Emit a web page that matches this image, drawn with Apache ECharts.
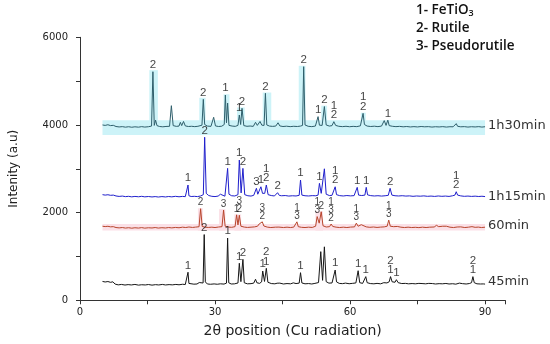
<!DOCTYPE html>
<html><head><meta charset="utf-8">
<script src="https://cdn.jsdelivr.net/npm/echarts@6/dist/echarts.min.js"></script>
<style>html,body{margin:0;padding:0;background:#fff}#c{width:550px;height:344px}</style>
</head><body><div id="c"></div>
<script>
// ---------- data ----------
const seriesNames = ['45min', '60min', '1h15min', '1h30min'];
const xTicks = [0, 30, 60, 90];
const yTicks = [0, 2000, 4000, 6000];

// baseline / shoulder points [2theta, intensity]
const base45 = [[5,430],[5.6,418],[6.2,428],[6.8,410],[7.3,422],[7.8,370],[8.5,352],[9.2,362],[10,348],[10.7,358],[11.4,350],[12.2,362],[13,346],[13.7,355],[14.5,350],[15.2,360],[16,346],[16.8,357],[17.5,350],[18.3,362],[19,350],[19.8,358],[20.5,352],[21.3,362],[22,354],[22.8,366],[23.4,360],[23.8,385],[24.2,385],[24.6,362],[25.3,368],[26,372],[26.5,405],[26.9,378],[27.35,395],[27.85,420],[28.3,372],[29,366],[29.8,374],[30.5,366],[31.2,376],[32,370],[32.55,392],[33.05,400],[33.6,372],[34.3,375],[35.1,395],[35.75,425],[36.5,400],[37.2,376],[38,380],[38.6,392],[39.3,400],[39.9,386],[40.35,420],[41.0,430],[41.75,412],[42.5,382],[43.3,376],[43.8,390],[44.4,392],[45.2,372],[46,382],[46.8,376],[47.4,398],[48,382],[48.7,392],[49.3,396],[50,376],[50.8,382],[51.5,372],[52.2,386],[53.0,405],[53.9,455],[54.7,425],[55.3,392],[56,396],[56.4,422],[57,420],[57.6,386],[58.3,380],[59,392],[59.8,378],[60.5,386],[61.3,396],[62.15,402],[62.8,386],[63.2,410],[63.8,402],[64.5,382],[65.3,376],[66,386],[66.8,376],[67.5,402],[68.2,396],[68.7,422],[69.35,422],[70.0,412],[70.7,402],[71.5,382],[72.3,386],[73,376],[73.8,382],[74.5,376],[75.3,386],[76,382],[76.8,376],[77.5,386],[78.3,382],[79,372],[79.8,380],[80.5,376],[81.3,384],[82,372],[82.8,378],[83.5,368],[84.3,392],[85,380],[85.8,372],[86.5,382],[87.0,402],[87.6,402],[88.2,376],[89,372],[89.6,374],[90,370]];
const base60 = [[5,1690],[5.6,1682],[6.2,1688],[6.8,1676],[7.4,1680],[8,1660],[8.7,1652],[9.4,1660],[10.1,1648],[10.8,1656],[11.5,1645],[12.2,1655],[13,1648],[13.7,1658],[14.4,1646],[15.2,1655],[16,1650],[16.7,1660],[17.4,1648],[18.2,1656],[19,1650],[19.7,1660],[20.4,1652],[21.2,1662],[22,1655],[22.8,1668],[23.5,1660],[24.2,1672],[25,1662],[25.7,1670],[26.45,1678],[27.15,1685],[27.8,1668],[28.5,1662],[29.3,1668],[30,1660],[30.8,1672],[31.55,1680],[32.25,1690],[33,1670],[33.7,1665],[34.45,1680],[35.1,1720],[35.75,1690],[36.5,1670],[37.2,1662],[38,1668],[38.8,1675],[39.45,1690],[40.1,1700],[40.85,1695],[41.6,1670],[42.4,1660],[43.4,1668],[44.2,1670],[45.2,1660],[46,1668],[46.8,1660],[47.5,1670],[47.9,1680],[48.5,1680],[49.2,1665],[50,1660],[50.8,1668],[51.6,1662],[52.35,1690],[53.15,1760],[54.0,1700],[54.7,1672],[55.45,1680],[56.15,1685],[56.9,1668],[57.7,1660],[58.5,1668],[59.3,1660],[60.1,1670],[61.0,1675],[61.8,1690],[62.2,1700],[62.9,1690],[63.6,1675],[64.4,1665],[65.2,1672],[66,1662],[66.8,1670],[67.6,1675],[68.25,1690],[68.95,1690],[69.7,1680],[70.5,1685],[71.3,1668],[72.1,1660],[72.9,1668],[73.7,1660],[74.5,1665],[75.3,1658],[76.1,1668],[76.9,1660],[77.7,1668],[78.7,1672],[79.7,1680],[80.6,1690],[81.4,1690],[82.2,1668],[83,1660],[83.8,1672],[84.6,1675],[85.5,1660],[86.3,1668],[87.1,1680],[87.8,1665],[88.5,1670],[89.2,1660],[90,1668]];
const base75 = [[5,2410],[5.6,2400],[6.2,2408],[6.8,2395],[7.4,2400],[8,2380],[8.7,2370],[9.4,2378],[10.1,2365],[10.8,2372],[11.5,2360],[12.2,2370],[13,2362],[13.7,2372],[14.4,2360],[15.2,2368],[16,2358],[16.7,2366],[17.4,2356],[18.2,2366],[19,2358],[19.7,2368],[20.4,2360],[21.2,2372],[22,2362],[22.8,2370],[23.4,2365],[23.8,2385],[24.2,2385],[24.7,2368],[25.4,2372],[26.1,2366],[26.8,2380],[27.4,2410],[28.05,2440],[28.6,2390],[29.3,2372],[30,2366],[30.7,2378],[31.0,2390],[31.5,2385],[32.2,2375],[32.55,2400],[33.1,2420],[33.7,2385],[34.4,2380],[35.1,2410],[35.8,2450],[36.6,2410],[37.3,2385],[38,2378],[38.6,2395],[38.95,2410],[39.5,2420],[39.9,2425],[40.55,2440],[41.05,2440],[41.8,2410],[42.5,2390],[43.2,2380],[43.6,2395],[44.3,2392],[44.8,2385],[45.6,2390],[46.4,2378],[47.2,2385],[48,2380],[48.7,2395],[49.3,2400],[50,2385],[50.8,2380],[51.6,2388],[52.4,2385],[52.9,2400],[53.6,2440],[53.95,2430],[54.7,2420],[55.4,2390],[56,2395],[56.4,2410],[57.0,2410],[57.7,2388],[58.5,2380],[59.3,2390],[60.1,2382],[60.9,2388],[61.3,2400],[61.9,2400],[62.6,2390],[63.3,2400],[63.9,2405],[64.6,2388],[65.4,2380],[66.2,2386],[67,2378],[67.8,2385],[68.5,2395],[69.3,2400],[70,2385],[70.8,2380],[71.6,2386],[72.4,2378],[73.2,2382],[74,2372],[74.8,2380],[75.6,2375],[76.4,2382],[77.2,2372],[78,2378],[78.8,2370],[79.6,2380],[80.4,2372],[81.2,2378],[82,2370],[82.8,2385],[83.3,2400],[83.9,2400],[84.6,2382],[85.4,2372],[86.2,2378],[87,2370],[87.8,2376],[88.6,2368],[89.3,2374],[90,2366]];
const base90 = [[5,4000],[5.6,3990],[6.2,4005],[6.8,3985],[7.4,3992],[8,3965],[8.7,3955],[9.4,3962],[10.1,3950],[10.8,3960],[11.5,3948],[12.2,3958],[13,3950],[13.7,3962],[14.4,3952],[15.2,3960],[15.9,3975],[16.5,3990],[17.1,3985],[17.7,3965],[18.4,3958],[19.1,3966],[19.9,3970],[20.7,3985],[21.4,3968],[22,3975],[22.6,3985],[23.4,3978],[24.1,3965],[24.8,3970],[25.5,3962],[26.2,3970],[27.1,3995],[27.7,4010],[28.3,3975],[29.1,3968],[29.4,3980],[30.1,3978],[30.8,3965],[31.5,3972],[32.05,4010],[32.55,4050],[33.1,3990],[33.8,3975],[34.5,3968],[35.1,3990],[35.7,4010],[36.4,3985],[37.1,3970],[37.8,3976],[38.5,3968],[39.4,3990],[40.4,3995],[40.9,3990],[41.5,4000],[42.1,3975],[42.8,3968],[43.5,3975],[44.4,3978],[45.1,3965],[45.9,3972],[46.7,3962],[47.5,3970],[48.3,3965],[49.0,3975],[49.45,3990],[50.0,4000],[50.7,3970],[51.5,3962],[52.3,3975],[52.65,3990],[53.2,3995],[53.8,3990],[54.7,4000],[55.4,3975],[56.0,3985],[56.8,3990],[57.5,3970],[58.3,3962],[59.1,3970],[59.9,3960],[60.7,3968],[61.5,3962],[62.3,3980],[62.6,4010],[63.2,4010],[63.8,3975],[64.6,3965],[65.4,3972],[66.2,3962],[67.0,3975],[67.3,3990],[68.0,3990],[68.7,3985],[69.4,3970],[70.2,3962],[71,3968],[71.8,3958],[72.6,3965],[73.4,3955],[74.2,3962],[75,3955],[75.8,3965],[76.6,3958],[77.4,3962],[78.2,3952],[79,3960],[79.8,3955],[80.6,3962],[81.4,3952],[82.2,3960],[82.9,3958],[83.3,3975],[83.9,3970],[84.6,3958],[85.4,3962],[86.2,3952],[87,3960],[87.8,3955],[88.6,3962],[89.3,3952],[90,3960]];

// peaks [2theta, intensity, phase label]  1 = FeTiO3, 2 = Rutile, 3 = Pseudorutile
const peaks45 = [[24.0,640,'1'],[27.6,1500,'2'],[32.8,1420,'1'],[35.4,845,'1'],[36.2,935,'2'],[39.0,480,''],[40.6,668,'1'],[41.4,730,'2\n1'],[44.1,430,''],[49.0,630,'1'],[53.5,1110,''],[54.3,1220,''],[56.7,690,'1'],[61.8,675,'1'],[63.5,540,'1'],[69.0,540,'2\n1'],[70.3,470,'1'],[87.3,540,'2\n1']];
const peaks60 = [[26.8,2090,'2'],[31.9,2060,'3'],[34.8,1950,'1'],[35.4,1940,'3\n2'],[39.8,1740,''],[40.5,1790,'3\n2'],[43.8,1710,''],[48.2,1790,'1\n3'],[52.7,1910,'1\n3'],[53.6,2020,'2'],[55.8,1740,'1\n3\n2'],[61.4,1760,'1\n3'],[62.5,1725,''],[68.6,1830,'1\n3'],[70.1,1700,''],[79.2,1710,''],[81.0,1725,''],[84.2,1700,'']];
const peaks75 = [[24.0,2630,'1'],[27.7,3720,'2'],[31.2,2420,''],[32.8,3010,'1'],[35.4,3200,'1'],[36.2,3010,'2'],[39.2,2555,'3'],[40.2,2590,'1'],[41.4,2630,'1\n2'],[43.9,2455,'2'],[45.2,2400,''],[49.0,2744,'1'],[53.2,2668,'1'],[54.3,3000,''],[56.7,2590,'1\n2'],[61.6,2577,'1'],[63.6,2577,'1'],[68.9,2555,'2'],[83.6,2477,'1\n2']];
const peaks90 = [[16.2,5215,'2'],[16.8,4110,''],[20.3,4440,''],[22.3,4060,''],[23.0,4080,''],[27.4,4585,'2'],[29.7,4175,''],[32.3,4683,'1'],[32.8,4500,''],[35.4,4227,'1'],[36.0,4380,'2'],[39.0,4060,''],[40.0,4080,''],[41.2,4722,'2'],[44.0,4050,''],[49.7,5330,'2'],[52.9,4190,'1'],[54.3,4420,'2'],[56.4,4075,'1\n2'],[62.9,4265,'1\n2'],[67.6,4100,''],[68.4,4110,'1'],[83.6,4030,'']];

// highlight bands [x0, x1, y0, y1]
const cyanBands = [[5,90,3770,4110],[15.4,17.3,3770,5250],[26.5,27.9,3770,4620],[31.9,33.2,3770,4700],[34.9,36.6,3770,4400],[40.6,42.5,3770,4740],[48.6,50.1,3770,5350],[53.6,54.9,3770,4440],[62.4,63.5,3770,4280]];
const pinkBands = [[5,90,1590,1740],[26.2,27.3,1590,2100],[30.9,32.3,1590,2080],[34.3,35.8,1590,1960],[52.3,54.0,1590,2030]];

const legendLines = ['1- FeTiO{s|3}', '2- Rutile', '3- Pseudorutile'];

// ---------- build ----------
function trace(base, peaks) {
  return base.concat(peaks.map(p => [p[0], p[1]])).sort((a, b) => a[0] - b[0]);
}
function bandData(bands) {
  return bands.map(b => [{coord: [b[0], b[2]]}, {coord: [b[1], b[3]]}]);
}
const colors = ['#161616', '#b8452c', '#1f1fcc', '#2f5f6c'];
const bases = [base45, base60, base75, base90];
const peaks = [peaks45, peaks60, peaks75, peaks90];
const endOffsets = [-2, -2, 0, -1];
const FONT = 'DejaVu Sans';

const series = [
  {type: 'line', data: [], z: 1, silent: true,
   markArea: {silent: true, itemStyle: {color: '#cdf3f8'}, data: bandData(cyanBands)}},
  {type: 'line', data: [], z: 1, silent: true,
   markArea: {silent: true, itemStyle: {color: '#fbe0e7'}, data: bandData(pinkBands)}}
];
seriesNames.forEach((name, i) => {
  series.push({
    name: name, type: 'line', z: 3, showSymbol: false, symbol: 'none',
    data: trace(bases[i], peaks[i]),
    lineStyle: {color: colors[i], width: 1},
    endLabel: {show: true, formatter: name, color: '#333', fontSize: 13, fontFamily: FONT, distance: 3, offset: [0, endOffsets[i]]}
  });
  series.push({
    type: 'scatter', z: 4, symbolSize: 0, silent: true,
    data: peaks[i].filter(p => p[2]).map(p => [p[0], p[1], p[2]]),
    label: {show: true, position: 'top', distance: 2, formatter: p => p.data[2],
      fontFamily: 'Liberation Sans', fontSize: i === 1 ? 10 : 11.5, lineHeight: i === 1 ? 8 : 9.5, color: '#111'}
  });
});

const chart = echarts.init(document.getElementById('c'), null, {renderer: 'canvas'});
chart.setOption({
  animation: false,
  backgroundColor: '#fff',
  grid: {left: 79.3, top: 37.3, width: 426, height: 263},
  xAxis: {
    type: 'value', min: 0, max: 94.5, interval: 15,
    name: '2θ position (Cu radiation)', nameLocation: 'middle', nameGap: 24,
    nameTextStyle: {fontFamily: FONT, fontSize: 14, color: '#222'},
    axisLine: {lineStyle: {color: '#333', width: 1}},
    axisTick: {length: 4, lineStyle: {color: '#333'}},
    axisLabel: {margin: 7, fontFamily: FONT, fontSize: 10, color: '#222',
      formatter: v => xTicks.indexOf(v) >= 0 ? String(v) : ''},
    splitLine: {show: false}
  },
  yAxis: {
    type: 'value', min: 0, max: 6000, interval: 1000,
    name: 'Intenity (a.u)', nameLocation: 'middle', nameGap: 60,
    nameTextStyle: {fontFamily: FONT, fontSize: 12, color: '#222'},
    axisLine: {show: true, lineStyle: {color: '#333', width: 1}},
    axisTick: {show: true, length: 4, lineStyle: {color: '#333'}},
    axisLabel: {margin: 12, fontFamily: FONT, fontSize: 10, color: '#222',
      formatter: v => yTicks.indexOf(v) >= 0 ? String(v) : ''},
    splitLine: {show: false}
  },
  graphic: legendLines.map((t, i) => ({
    type: 'text', left: 416, top: 3 + i * 18,
    style: {text: t, fontFamily: 'Open Sans', fontWeight: 600, fontSize: 13.5, fill: '#111',
      rich: {s: {fontFamily: 'Open Sans', fontWeight: 600, fontSize: 9, fill: '#111', padding: [7, 0, 0, 0]}}}
  })),
  series: series
});
</script></body></html>
